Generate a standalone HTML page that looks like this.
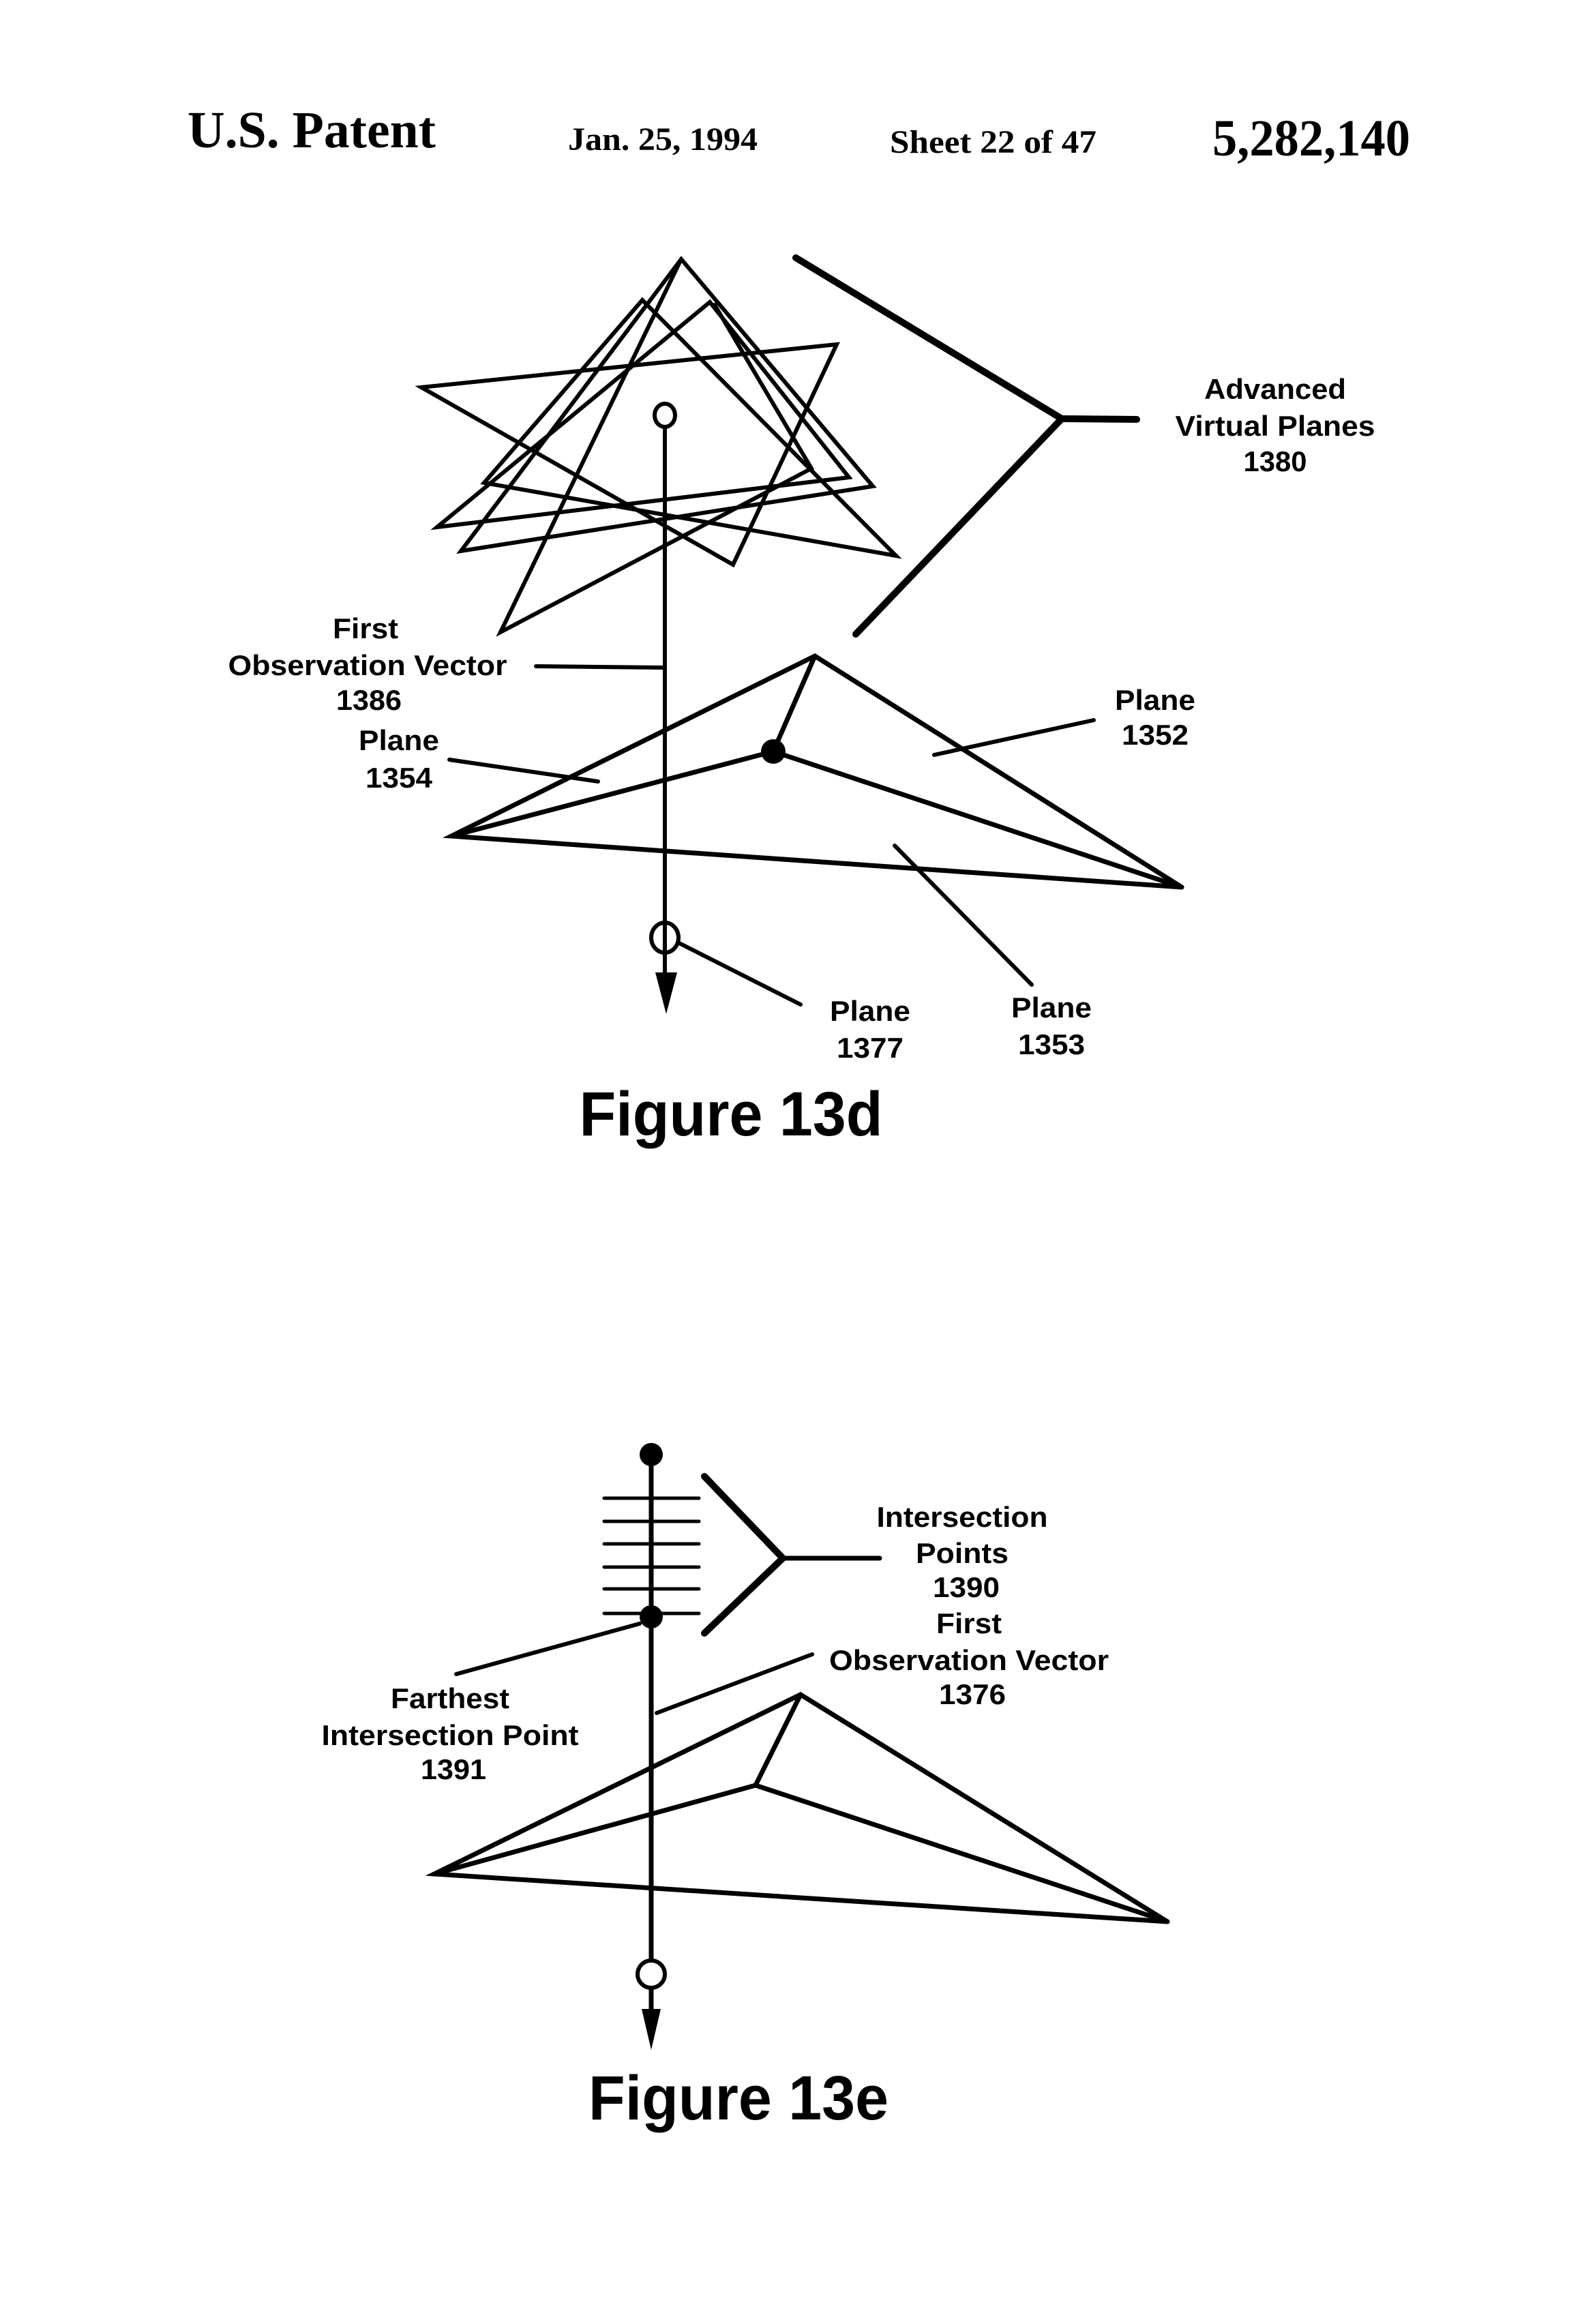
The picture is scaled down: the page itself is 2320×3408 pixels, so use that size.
<!DOCTYPE html>
<html><head><meta charset="utf-8"><style>
html,body{margin:0;padding:0;background:#fff;}
svg{display:block;}
.l{font-family:"Liberation Sans",sans-serif;font-weight:bold;font-size:42px;fill:#000;text-anchor:middle;}
.h{font-family:"Liberation Serif",serif;font-weight:bold;fill:#000;}
</style></head><body>
<svg width="2320" height="3408" viewBox="0 0 2320 3408" xmlns="http://www.w3.org/2000/svg">
<rect width="2320" height="3408" fill="#fff"/>
<!-- header -->
<text class="h" x="275" y="216" font-size="76" textLength="364" lengthAdjust="spacingAndGlyphs">U.S. Patent</text>
<text class="h" x="833" y="220" font-size="48" textLength="278" lengthAdjust="spacingAndGlyphs">Jan. 25, 1994</text>
<text class="h" x="1305" y="224" font-size="48" textLength="303" lengthAdjust="spacingAndGlyphs">Sheet 22 of 47</text>
<text class="h" x="1778" y="228" font-size="76" textLength="290" lengthAdjust="spacingAndGlyphs">5,282,140</text>

<g fill="none" stroke="#000" stroke-linejoin="miter" stroke-linecap="round">
<!-- star of planes -->
<g stroke-width="6">
<polygon points="618,568 1227,505 1075,828"/>
<polygon points="942,440 710,708 1314,815"/>
<polygon points="1041,443 641,773 1245,700"/>
<polygon points="999,380 676,808 1280,713"/>
<polyline points="999,380 734,927 1190,687 1048,447"/>
</g>
<!-- bracket 1380 -->
<polyline points="1167,378 1557,614 1255,930" stroke-width="10"/>
<line x1="1557" y1="614" x2="1667" y2="615" stroke-width="10"/>
<!-- vector 13d -->
<ellipse cx="975" cy="609" rx="15" ry="17" stroke-width="6"/>
<line x1="975" y1="626" x2="975" y2="1440" stroke-width="6"/>
<ellipse cx="975" cy="1375" rx="20" ry="22" stroke-width="6"/>
<!-- triangle 13d -->
<g stroke-width="7">
<polygon points="1195,962 662,1226 1733,1301"/>
<polyline points="662,1226 1134,1102 1733,1301"/>
<line x1="1134" y1="1102" x2="1195" y2="962"/>
</g>
<!-- leaders 13d -->
<g stroke-width="6">
<line x1="786" y1="977" x2="975" y2="979"/>
<line x1="659" y1="1114" x2="877" y2="1146"/>
<line x1="1370" y1="1107" x2="1604" y2="1056"/>
<line x1="1312" y1="1240" x2="1513" y2="1444"/>
<line x1="994" y1="1382" x2="1174" y2="1473"/>
</g>
</g>
<circle cx="1134" cy="1102" r="18" fill="#000"/>
<polygon points="961,1426 993,1426 977,1487" fill="#000"/>

<!-- labels 13d -->
<text class="l" x="1870" y="585" textLength="208" lengthAdjust="spacingAndGlyphs">Advanced</text>
<text class="l" x="1870" y="639" textLength="293" lengthAdjust="spacingAndGlyphs">Virtual Planes</text>
<text class="l" x="1870" y="691" textLength="93" lengthAdjust="spacingAndGlyphs">1380</text>
<text class="l" x="536" y="936" textLength="96" lengthAdjust="spacingAndGlyphs">First</text>
<text class="l" x="539" y="990" textLength="409" lengthAdjust="spacingAndGlyphs">Observation Vector</text>
<text class="l" x="541" y="1041" textLength="96" lengthAdjust="spacingAndGlyphs">1386</text>
<text class="l" x="585" y="1100" textLength="118" lengthAdjust="spacingAndGlyphs">Plane</text>
<text class="l" x="585" y="1155" textLength="98" lengthAdjust="spacingAndGlyphs">1354</text>
<text class="l" x="1694" y="1041" textLength="118" lengthAdjust="spacingAndGlyphs">Plane</text>
<text class="l" x="1694" y="1092" textLength="98" lengthAdjust="spacingAndGlyphs">1352</text>
<text class="l" x="1276" y="1497" textLength="118" lengthAdjust="spacingAndGlyphs">Plane</text>
<text class="l" x="1276" y="1551" textLength="98" lengthAdjust="spacingAndGlyphs">1377</text>
<text class="l" x="1542" y="1492" textLength="118" lengthAdjust="spacingAndGlyphs">Plane</text>
<text class="l" x="1542" y="1546" textLength="98" lengthAdjust="spacingAndGlyphs">1353</text>
<text class="l" x="1072" y="1665" style="font-size:92px" textLength="445" lengthAdjust="spacingAndGlyphs">Figure 13d</text>

<!-- 13e -->
<g fill="none" stroke="#000" stroke-linecap="round">
<line x1="955" y1="2133" x2="955" y2="2950" stroke-width="7"/>
<g stroke-width="5">
<line x1="886" y1="2197" x2="1025" y2="2197"/>
<line x1="886" y1="2231" x2="1025" y2="2231"/>
<line x1="886" y1="2264" x2="1025" y2="2264"/>
<line x1="886" y1="2298" x2="1025" y2="2298"/>
<line x1="886" y1="2330" x2="1025" y2="2330"/>
<line x1="886" y1="2366" x2="1025" y2="2366"/>
</g>
<polyline points="1033,2165 1148,2285 1033,2395" stroke-width="10"/>
<line x1="1148" y1="2285" x2="1290" y2="2285" stroke-width="7"/>
<g stroke-width="6">
<line x1="669" y1="2455" x2="938" y2="2381"/>
<line x1="963" y1="2512" x2="1191" y2="2426"/>
</g>
<g stroke-width="7">
<polygon points="1174,2485 637,2748 1712,2818"/>
<polyline points="637,2748 1108,2618 1712,2818"/>
<line x1="1108" y1="2618" x2="1174" y2="2485"/>
</g>
<circle cx="955" cy="2895" r="20" stroke-width="6" fill="#fff"/>
</g>
<circle cx="955" cy="2133" r="17" fill="#000"/>
<circle cx="955" cy="2371" r="17" fill="#000"/>
<polygon points="941,2946 969,2946 955,3006" fill="#000"/>

<text class="l" x="1411" y="2239" textLength="251" lengthAdjust="spacingAndGlyphs">Intersection</text>
<text class="l" x="1411" y="2292" textLength="136" lengthAdjust="spacingAndGlyphs">Points</text>
<text class="l" x="1417" y="2342" textLength="98" lengthAdjust="spacingAndGlyphs">1390</text>
<text class="l" x="1421" y="2395" textLength="96" lengthAdjust="spacingAndGlyphs">First</text>
<text class="l" x="1421" y="2449" textLength="410" lengthAdjust="spacingAndGlyphs">Observation Vector</text>
<text class="l" x="1426" y="2499" textLength="98" lengthAdjust="spacingAndGlyphs">1376</text>
<text class="l" x="660" y="2505" textLength="174" lengthAdjust="spacingAndGlyphs">Farthest</text>
<text class="l" x="660" y="2559" textLength="377" lengthAdjust="spacingAndGlyphs">Intersection Point</text>
<text class="l" x="665" y="2609" textLength="96" lengthAdjust="spacingAndGlyphs">1391</text>
<text class="l" x="1083" y="3108" style="font-size:92px" textLength="440" lengthAdjust="spacingAndGlyphs">Figure 13e</text>
</svg>
</body></html>
